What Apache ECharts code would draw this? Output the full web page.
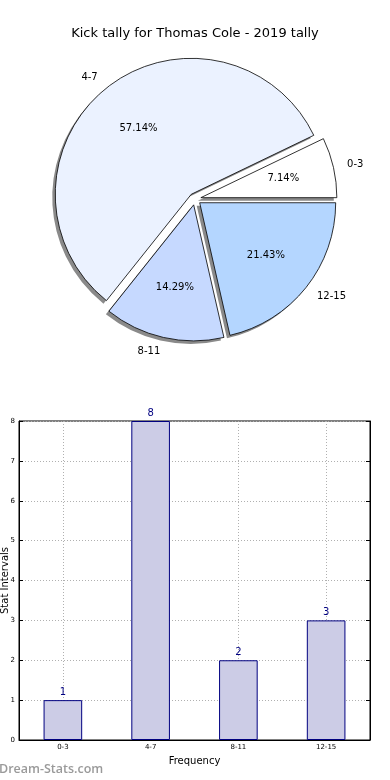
<!DOCTYPE html>
<html>
<head>
<meta charset="utf-8">
<script src="https://cdn.jsdelivr.net/npm/echarts@6/dist/echarts.min.js"></script>
<style>
html,body{margin:0;padding:0;background:#fff;}
#c{width:390px;height:780px;}
</style>
</head>
<body>
<div id="c"></div>
<script>
var categories = ['0-3', '4-7', '8-11', '12-15'];
var counts = [1, 8, 2, 3];
var pieColors = ['#ffffff', '#ebf2ff', '#c6d9ff', '#b4d6ff'];
var titleText = 'Kick tally for Thomas Cole - 2019 tally';

var total = counts.reduce(function (a, b) { return a + b; }, 0);
var FONT = '"DejaVu Sans", sans-serif';
var R = 136;
var OFF = 6;
var CX = 195, CY = 199;

function mkData(withColor) {
  return categories.map(function (c, i) {
    var d = { name: c, value: counts[i], selected: true };
    if (withColor) d.itemStyle = { color: pieColors[i] };
    return d;
  });
}

var pieBase = {
  type: 'pie', startAngle: 0, clockwise: false,
  selectedMode: 'multiple', selectedOffset: OFF,
  avoidLabelOverlap: false, silent: true,
  emphasis: { disabled: true }
};

var chart = echarts.init(document.getElementById('c'), null, { renderer: 'canvas' });
chart.setOption({
  animation: false,
  backgroundColor: '#ffffff',
  title: {
    text: titleText, left: 'center', top: 22,
    textStyle: { fontFamily: FONT, fontSize: 13, fontWeight: 'normal', color: '#000' }
  },
  graphic: [{
    type: 'text', left: -1, top: 763,
    style: { text: 'Dream-Stats.com', font: '600 12.5px "Open Sans", sans-serif', fill: '#9a9a9a' }
  }],
  grid: { left: 19, right: 20, top: 421, bottom: 40, show: true, borderColor: '#000', borderWidth: 1, backgroundColor: 'transparent', outerBoundsMode: 'none', containLabel: false },
  xAxis: {
    type: 'category', data: categories,
    name: 'Frequency', nameLocation: 'middle', nameGap: 16, nameMoveOverlap: false,
    nameTextStyle: { fontFamily: FONT, fontSize: 10, color: '#000' },
    axisLine: { show: true, lineStyle: { color: '#000', width: 1 } },
    axisTick: { show: true, inside: true, alignWithLabel: true, length: 4, lineStyle: { color: '#000' } },
    axisLabel: { fontFamily: FONT, fontSize: 7, color: '#000', margin: 4 },
    splitLine: { show: true, alignWithLabel: true, lineStyle: { color: '#b0b0b0', type: [1, 2], width: 1 } }
  },
  yAxis: [{
    type: 'value', min: 0, max: 8, interval: 1,
    name: 'Stat Intervals', nameLocation: 'middle', nameGap: 9, nameMoveOverlap: false,
    nameTextStyle: { fontFamily: FONT, fontSize: 10, color: '#000' },
    axisLine: { show: true, lineStyle: { color: '#000', width: 1 } },
    axisTick: { show: true, inside: true, length: 4, lineStyle: { color: '#000' } },
    axisLabel: { fontFamily: FONT, fontSize: 7, color: '#000', margin: 4 },
    splitLine: { show: true, lineStyle: { color: '#b0b0b0', type: [1, 2], width: 1 } }
  }, {
    type: 'value', min: 0, max: 8, interval: 1, position: 'right',
    axisLine: { show: true, lineStyle: { color: '#000', width: 1 } },
    axisTick: { show: true, inside: true, length: 4, lineStyle: { color: '#000' } },
    axisLabel: { show: false },
    splitLine: { show: false }
  }],
  series: [
    Object.assign({}, pieBase, {
      center: [CX - 3, CY + 3], radius: R,
      itemStyle: { color: '#8a8a8a', borderWidth: 0 },
      label: { show: false }, labelLine: { show: false },
      data: mkData(false)
    }),
    Object.assign({}, pieBase, {
      center: [CX, CY], radius: R,
      itemStyle: { borderColor: '#000', borderWidth: 0.8 },
      label: { show: true, position: 'outside', formatter: '{b}', fontFamily: FONT, fontSize: 10, color: '#000', distanceToLabelLine: 0 },
      labelLine: { show: false, length: Math.round(R * 0.1), length2: 0 },
      data: mkData(true)
    }),
    Object.assign({}, pieBase, {
      center: [CX, CY], radius: R * 1.2,
      itemStyle: { color: 'rgba(0,0,0,0)', borderWidth: 0 },
      label: {
        show: true, position: 'inside', fontFamily: FONT, fontSize: 10, color: '#000',
        formatter: function (p) { return (p.value / total * 100).toFixed(2) + '%'; }
      },
      labelLine: { show: false },
      data: mkData(false)
    }),
    {
      type: 'bar', xAxisIndex: 0, yAxisIndex: 0,
      data: counts, barWidth: '44%',
      itemStyle: { color: '#ccccE6', borderColor: '#000080', borderWidth: 1 },
      label: { show: true, position: 'top', distance: 3, fontFamily: FONT, fontSize: 10, color: '#000080' },
      emphasis: { disabled: true }
    }
  ]
});
</script>
</body>
</html>
